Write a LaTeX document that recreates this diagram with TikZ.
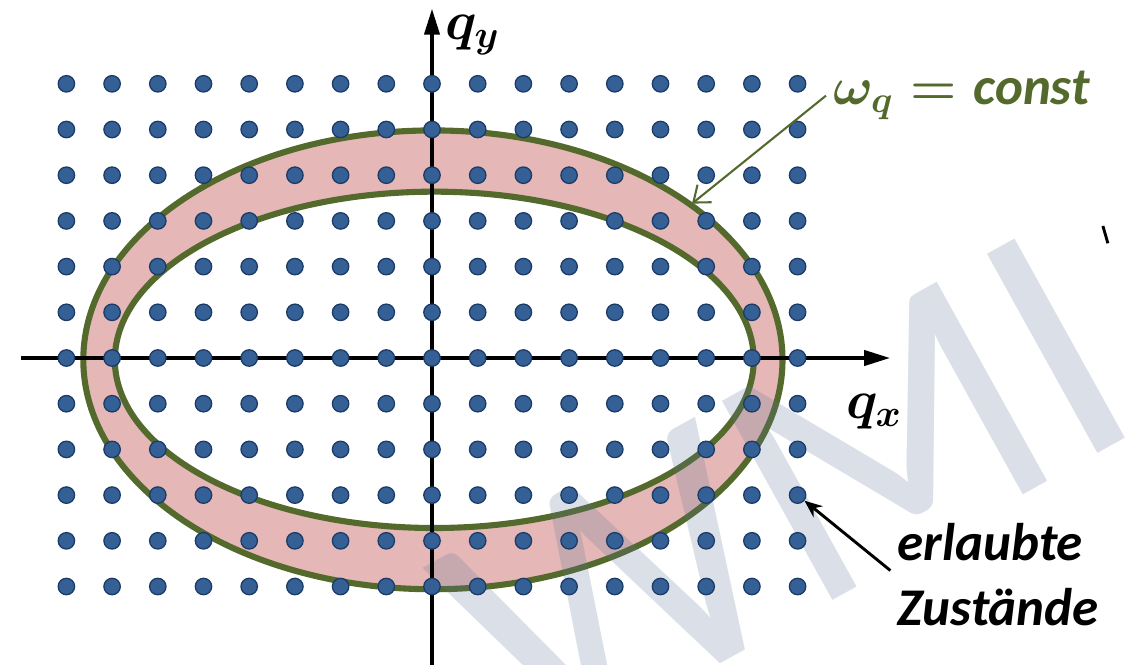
\RequirePackage{fix-cm}
\documentclass[tikz,border=0pt]{standalone}
\usepackage{amsmath}
\usepackage{fontspec}
\setmainfont{Carlito}
\usetikzlibrary{arrows.meta,calc}
\definecolor{dotblue}{RGB}{52,96,150}
\definecolor{dotedge}{RGB}{28,58,102}
\definecolor{ringgreen}{RGB}{84,106,44}
\definecolor{ringpink}{RGB}{229,183,183}
\definecolor{wmblue}{RGB}{90,115,150}
\begin{document}
\begin{tikzpicture}[
			axis line/.style={line width=1.9pt, -{Triangle[length=16pt,width=9.5pt]}},
			dot node/.style={circle, draw=dotedge, fill=dotblue, line width=0.8pt, minimum size=0.36cm, inner sep=0pt},
			ring line/.style={draw=ringgreen, line width=3.8pt},
			label node/.style={font=\fontsize{33}{41}\selectfont\bfseries\itshape\boldmath, inner sep=0.15cm},
			axis node/.style={font=\fontsize{34}{40}\selectfont\boldmath, inner sep=0pt}
			]
			\useasboundingbox (-9.453,-6.696) rectangle (15.208,7.834);
			% ring between the two ellipses
			\fill[ringpink, even odd rule] (0.02,-0.04) ellipse [x radius=7.65, y radius=5.02]
				(0.05,-0.04) ellipse [x radius=6.99, y radius=3.68];
			\draw[ring line] (0.02,-0.04) ellipse [x radius=7.65, y radius=5.02];
			\draw[ring line] (0.05,-0.04) ellipse [x radius=6.99, y radius=3.68];
			\coordinate (tipq) at ($(0.02,-0.04)+(42.5:7.69 and 5.06)$);
			
			\node[font=\fontsize{221}{221}\selectfont, text=wmblue, opacity=0.22, rotate=29,
				anchor=base east, inner sep=0pt] (wm) at (15.74,-1.45) {WMI};
			
			\coordinate (xl) at (-8.99,0);
			\coordinate (xr) at (10.02,0);
			\coordinate (yb) at (0,-6.75);
			\coordinate (yt) at (0,7.64);
			\draw[axis line] (xl) -- (xr);
			\draw[axis line] (yb) -- (yt);
			
			\foreach \i in {-8,...,8}
				\foreach \j in {-5,...,6}
					\node[dot node] (d\i\j) at (\i,\j) {};
			
			\node[axis node] (qx) at (9.67,-1.18) {$q_x$};
			\node[axis node] (qy) at (0.88,7.07) {$q_y$};
			\node[label node, text=ringgreen, anchor=base west] (wq) at (8.62,5.54) {$\omega_q = \text{const}$};
			\node[label node, align=left, anchor=north west] (state) at (10.03,-3.45) {erlaubte\\Zustände};
			
			\draw[ringgreen, line width=1.3pt, -{Straight Barb[length=9pt,width=14pt]}] (wq.west) -- (tipq);
			\draw[line width=1.8pt, -{Stealth[length=11pt,width=9pt]}] ($(state.north west)+(0,-1.2)$) -- (d8-3);
			
			\draw[line width=1.8pt] (14.68,2.89) -- (14.79,2.51);
		\end{tikzpicture}
\end{document}
